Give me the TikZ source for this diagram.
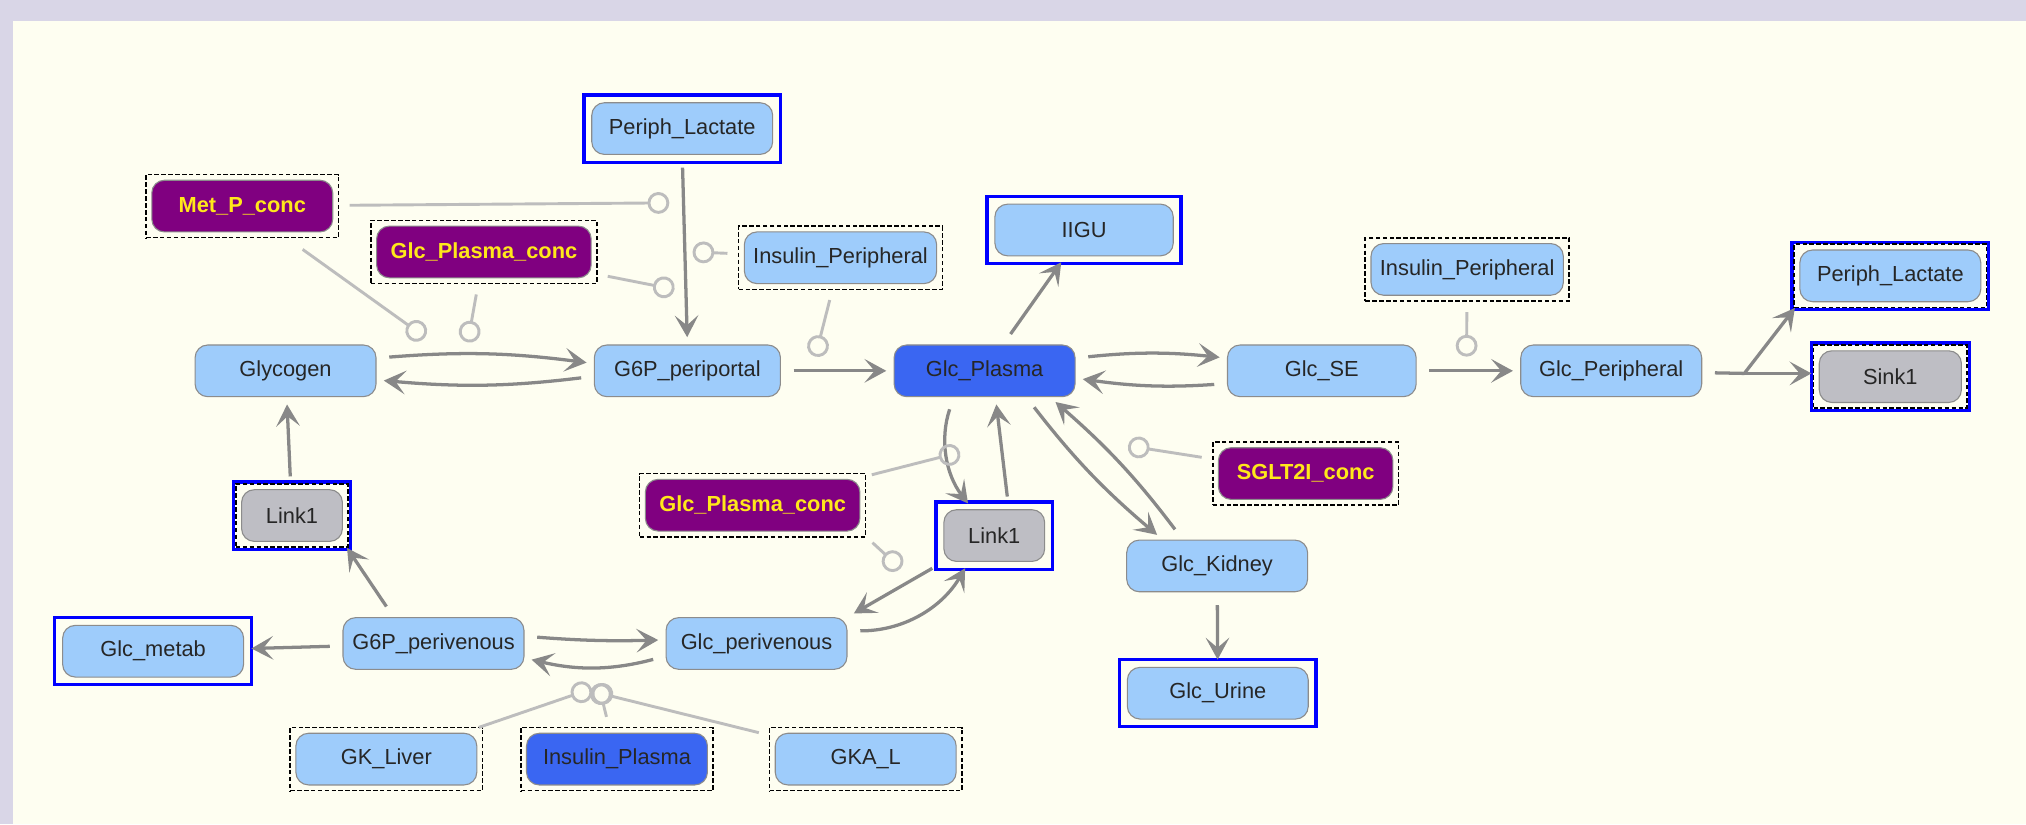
\documentclass[tikz,border=0pt]{standalone}
\usepackage{fontspec}
\setmainfont{Liberation Sans}
\usetikzlibrary{arrows.meta,fit,calc}

\definecolor{panel}{HTML}{FEFEF1}
\definecolor{lavender}{HTML}{D9D6E7}
\definecolor{species}{HTML}{9ECCFB}
\definecolor{plasma}{HTML}{3A66F2}
\definecolor{linkgray}{HTML}{BEBEC4}
\definecolor{param}{HTML}{800080}
\definecolor{paramtext}{HTML}{FFE81A}
\definecolor{rxngray}{HTML}{888888}
\definecolor{modgray}{HTML}{BDBDBD}

\begin{document}
\begin{tikzpicture}[x=0.025cm, y=-0.025cm,
  sp/.style={draw=gray!90, line width=0.6pt, rounded corners=7pt, fill=species, text=black!85,
    minimum width=3.5cm, minimum height=1cm, inner sep=2pt, font=\fontsize{12}{14}\selectfont},
  dark/.style={sp, fill=plasma},
  grey/.style={sp, fill=linkgray},
  par/.style={sp, fill=param, text=paramtext, font=\fontsize{12}{14}\selectfont\bfseries},
  bluebox/.style={draw=blue, line width=1.8pt, inner sep=0.14cm},
  dashbox/.style={draw=black, line width=0.9pt, dash pattern=on 2.5pt off 1.3pt, inner sep=0.1cm},
  rxn/.style={draw=rxngray, line width=1.8pt, -{Stealth[length=12pt,width=13pt,inset=5.5pt]},
    shorten <=7pt, shorten >=4pt},
  modif/.style={draw=modgray, line width=1.6pt, -{Circle[open,length=12pt,width=12pt]}, shorten <=9pt}]

\fill[lavender] (0,0) rectangle (1568,638);
\fill[panel] (10,16) rectangle (1568,638);
\useasboundingbox (0,0) rectangle (1568,638);

% species
\node[sp] (glycogen) at (221,287) {Glycogen};
\node[sp, minimum width=3.6cm] (g6ppp) at (532,287) {G6P\_periportal};
\node[dark] (glcpl) at (762,287) {Glc\_Plasma};
\node[sp, minimum width=3.65cm] (glcse) at (1023,287) {Glc\_SE};
\node[sp] (glcper) at (1247,287) {Glc\_Peripheral};
\node[sp] (plac1) at (528,99.5) {Periph\_Lactate};
\node[sp, minimum width=3.45cm] (iigu) at (839,178) {IIGU};
\node[sp] (plac2) at (1463,213.5) {Periph\_Lactate};
\node[grey, minimum width=2.75cm] (sink) at (1463,291.5) {Sink1};
\node[grey, minimum width=1.95cm] (linka) at (226,399) {Link1};
\node[grey, minimum width=1.95cm] (linkb) at (769.5,414.5) {Link1};
\node[sp] (glckid) at (942,438) {Glc\_Kidney};
\node[sp] (g6ppv) at (335.5,498) {G6P\_perivenous};
\node[sp] (glcpv) at (585.5,498) {Glc\_perivenous};
\node[sp] (glcmet) at (118.5,504) {Glc\_metab};
\node[sp] (glcur) at (942.5,536.5) {Glc\_Urine};

% parameters and modifiers
\node[par] (metp) at (187.5,159.5) {Met\_P\_conc};
\node[par, minimum width=4.15cm] (glcpc1) at (374.5,195) {Glc\_Plasma\_conc};
\node[par, minimum width=4.15cm] (glcpc2) at (582.5,391) {Glc\_Plasma\_conc};
\node[par, minimum width=3.375cm] (sglt) at (1010.5,366.5) {SGLT2I\_conc};
\node[sp, minimum width=3.72cm] (insper1) at (650.5,199.5) {Insulin\_Peripheral};
\node[sp, minimum width=3.72cm] (insper2) at (1135.5,208.5) {Insulin\_Peripheral};
\node[sp] (gkliver) at (299,587.5) {GK\_Liver};
\node[dark] (insplasma) at (477.5,587.5) {Insulin\_Plasma};
\node[sp] (gkal) at (670,587.5) {GKA\_L};

\foreach \n in {plac1,iigu,glcmet,glcur,linkb}
  \node[bluebox, fit=(\n)] (\n-b) {};
\foreach \n in {metp,glcpc1,glcpc2,sglt,insper1,insper2,gkliver,insplasma,gkal}
  \node[dashbox, fit=(\n)] (\n-d) {};
\foreach \n in {plac2,sink,linka}{
  \node[bluebox, fit=(\n)] (\n-b) {};
  \node[dashbox, fit=(\n)] (\n-d) {};
}

\coordinate (jn) at (1350,289);
\coordinate (onglyc1) at (329,261);
\coordinate (onglyc2) at (362,265);
\coordinate (onlac1) at (518,157);
\coordinate (onlac2) at (522,224);
\coordinate (onlac3) at (536,195);
\coordinate (onpp) at (631,276);
\coordinate (onse) at (1135,276);
\coordinate (onlinkup) at (743,350);
\coordinate (onlinkdn) at (697,440);
\coordinate (onkid) at (873,345);
\coordinate (ongk1) at (458,533);
\coordinate (ongk2) at (463,529);
\coordinate (ongk3) at (458,535);

% reactions
\draw[rxn] ([yshift=7pt]glycogen.east) to[bend left=6] ([yshift=4pt]g6ppp.west);
\draw[rxn] ([yshift=-3pt]g6ppp.west) to[bend left=6] ([yshift=-5pt]glycogen.east);
\draw[rxn] (plac1.south) -- (g6ppp.north);
\draw[rxn] (g6ppp) -- (glcpl);
\draw[rxn] (glcpl) -- (iigu);
\draw[rxn] ([yshift=7pt]glcpl.east) to[bend left=6] ([yshift=7pt]glcse.west);
\draw[rxn] ([yshift=-7pt]glcse.west) to[bend left=6] ([yshift=-4pt]glcpl.east);
\draw[rxn] (glcse) -- (glcper);
\draw[rxn, -, shorten >=0pt] (glcper) -- (jn);
\draw[rxn, shorten <=0pt] (jn) -- (plac2.south west);
\draw[rxn, shorten <=0pt] (jn) -- (jn -| sink.west);
\draw[rxn] ([xshift=-17pt]glcpl.south) to[bend right=28] ([xshift=-12pt]linkb.north);
\draw[rxn] ([xshift=8pt]linkb.north) -- ([xshift=6pt]glcpl.south);
\draw[rxn] ([xshift=23pt]glcpl.south) to[bend right=6] ([xshift=-30pt]glckid.north);
\draw[rxn] ([xshift=-19pt]glckid.north) to[bend right=6] ([xshift=36pt]glcpl.south);
\draw[rxn] (glckid) -- (glcur);
\draw[rxn] (linkb.south west) -- (glcpv.north east);
\draw[rxn] ([yshift=7pt]glcpv.east) to[bend right=30] ([xshift=-14pt]linkb.south);
\draw[rxn] ([yshift=4pt]g6ppv.east) to[bend right=3] ([yshift=2pt]glcpv.west);
\draw[rxn] ([yshift=-7pt]glcpv.west) to[bend left=14] ([yshift=-8pt]g6ppv.east);
\draw[rxn] ([xshift=-22pt]g6ppv.north) -- (linka.south east);
\draw[rxn] (g6ppv) -- (glcmet);
\draw[rxn] (linka) -- (glycogen);

% modifiers
\draw[modif, shorten <=16pt] (metp) -- (onglyc1);
\draw[modif] (glcpc1) -- (onglyc2);
\draw[modif] (metp) -- (onlac1);
\draw[modif] (glcpc1) -- (onlac2);
\draw[modif] (insper1) -- (onlac3);
\draw[modif] (insper1) -- (onpp);
\draw[modif] (insper2) -- (onse);
\draw[modif] (glcpc2) -- (onlinkup);
\draw[modif] (glcpc2.south east) -- (onlinkdn);
\draw[modif] (sglt) -- (onkid);
\draw[modif] (gkliver) -- (ongk1);
\draw[modif] (insplasma) -- (ongk2);
\draw[modif] (gkal) -- (ongk3);
\end{tikzpicture}
\end{document}
